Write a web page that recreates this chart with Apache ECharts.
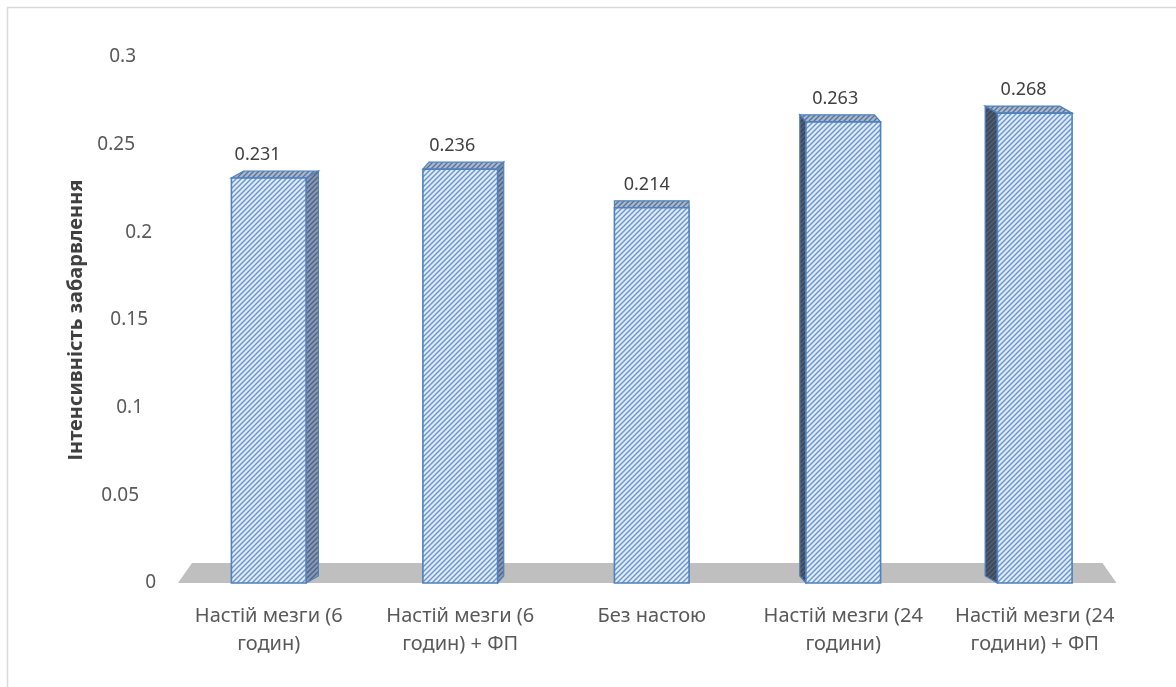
<!DOCTYPE html>
<html><head><meta charset="utf-8">
<script src="https://cdn.jsdelivr.net/npm/echarts@6/dist/echarts.min.js"></script>
<style>html,body{margin:0;padding:0;background:#fff}#c{width:1176px;height:687px}</style>
</head><body><div id="c"></div>
<script>
// ---- data ----
const categories = ['Настій мезги (6\nгодин)', 'Настій мезги (6\nгодин) + ФП', 'Без настою', 'Настій мезги (24\nгодини)', 'Настій мезги (24\nгодини) + ФП'];
const values = [0.231, 0.236, 0.214, 0.263, 0.268];
const valueLabels = ['0.231', '0.236', '0.214', '0.263', '0.268'];
const yTickLabels = ['0', '0.05', '0.1', '0.15', '0.2', '0.25', '0.3'];
const yAxisTitle = 'Інтенсивність забарвлення';

// ---- styles ----
const FONT = '"Noto Sans", "DejaVu Sans", sans-serif';
function hatch(bg, fg, size, lw) {
  const c = document.createElement('canvas');
  c.width = c.height = size;
  const g = c.getContext('2d');
  g.fillStyle = bg; g.fillRect(0, 0, size, size);
  g.strokeStyle = fg; g.lineWidth = lw;
  g.beginPath();
  g.moveTo(-1, size + 1); g.lineTo(size + 1, -1);
  g.moveTo(-1, 1); g.lineTo(1, -1);
  g.moveTo(size - 1, size + 1); g.lineTo(size + 1, size - 1);
  g.stroke();
  return { image: c, repeat: 'repeat' };
}
const frontPat = hatch('#dfeafa', '#6a95cf', 5, 1.4);
const topPat = hatch('#a7b8d0', '#5b7294', 5, 1.3);
const rightPat = hatch('#8798b2', '#4d6182', 5, 1.3);
const leftPat = hatch('#3f4b5d', '#55657c', 5, 1.2);
const EDGE = '#4f81bd';

const chart = echarts.init(document.getElementById('c'));

function renderFloor(params, api) {
  const cs = params.coordSys;
  const yb = cs.y + cs.height;
  const yt = yb - 20;
  return {
    type: 'polygon',
    shape: { points: [[cs.x + 5, yb], [cs.x + cs.width - 14, yb], [cs.x + cs.width - 28, yt], [cs.x + 19, yt]] },
    style: { fill: '#bfbfbf' },
    silent: true
  };
}

function renderBar(params, api) {
  const i = api.value(0), v = api.value(1);
  const base = api.coord([i, 0]);
  const topP = api.coord([i, v]);
  const cs = params.coordSys;
  const hw = api.size([1, 0])[0] * 0.195;
  const cx = base[0], y0 = base[1], yt = topP[1];
  const vx = cs.x + cs.width / 2;
  const dx = (vx - cx) * 0.032, dy = -7;
  const L = cx - hw, R = cx + hw;
  const ch = [];
  ch.push({ type: 'polygon', shape: { points: [[L, yt], [R, yt], [R + dx, yt + dy], [L + dx, yt + dy]] },
    style: { fill: topPat, stroke: EDGE, lineWidth: 1.2 } });
  if (dx > 0.5) {
    ch.push({ type: 'polygon', shape: { points: [[R, yt], [R + dx, yt + dy], [R + dx, y0 + dy], [R, y0]] },
      style: { fill: rightPat, stroke: EDGE, lineWidth: 1.2 } });
  } else if (dx < -0.5) {
    ch.push({ type: 'polygon', shape: { points: [[L, yt], [L + dx, yt + dy], [L + dx, y0 + dy], [L, y0]] },
      style: { fill: leftPat, stroke: EDGE, lineWidth: 1.2 } });
  }
  ch.push({ type: 'rect', shape: { x: L, y: yt, width: 2 * hw, height: y0 - yt },
    style: { fill: frontPat, stroke: EDGE, lineWidth: 1.6 } });
  ch.push({ type: 'text', style: { text: valueLabels[params.dataIndex], x: cx - 5 - Math.abs(dx) * 0.5, y: yt - 23, align: 'center', verticalAlign: 'middle',
    fontSize: 18, fontFamily: FONT, fill: '#404040' } });
  return { type: 'group', children: ch };
}

const padRight = [0, 17, 13, 8, 4, 21, 20];
const rich = {};
padRight.forEach((p, k) => { rich['t' + k] = { padding: [0, p, 0, 0], fontSize: 19, fontFamily: FONT, color: '#595959' }; });

chart.setOption({
  animation: false,
  backgroundColor: '#ffffff',
  graphic: [{ type: 'rect', shape: { x: 7.5, y: 7.5, width: 1200, height: 700 }, style: { fill: 'none', stroke: '#d9d9d9', lineWidth: 1.5 }, silent: true }],
  grid: { left: 173, right: 45.5, top: 57, bottom: 104 },
  xAxis: {
    type: 'category', data: categories,
    axisLine: { show: false }, axisTick: { show: false },
    axisLabel: { interval: 0, margin: 19, fontSize: 20, lineHeight: 28, fontFamily: FONT, color: '#595959' }
  },
  yAxis: {
    type: 'value', min: 0, max: 0.3, interval: 0.05,
    splitLine: { show: false }, axisLine: { show: false }, axisTick: { show: false },
    axisLabel: { margin: 17, formatter: (val, idx) => '{t' + idx + '|' + yTickLabels[idx] + '}', rich: rich },
    name: yAxisTitle, nameLocation: 'middle', nameRotate: 90, nameGap: 86,
    nameTextStyle: { fontSize: 20, fontWeight: 'bold', fontFamily: FONT, color: '#404040' }
  },
  series: [
    { type: 'custom', renderItem: renderFloor, data: [[0, 0]], silent: true, z: 1 },
    { type: 'custom', renderItem: renderBar, data: values.map((v, i) => [i, v]), z: 2 }
  ]
});
</script></body></html>
